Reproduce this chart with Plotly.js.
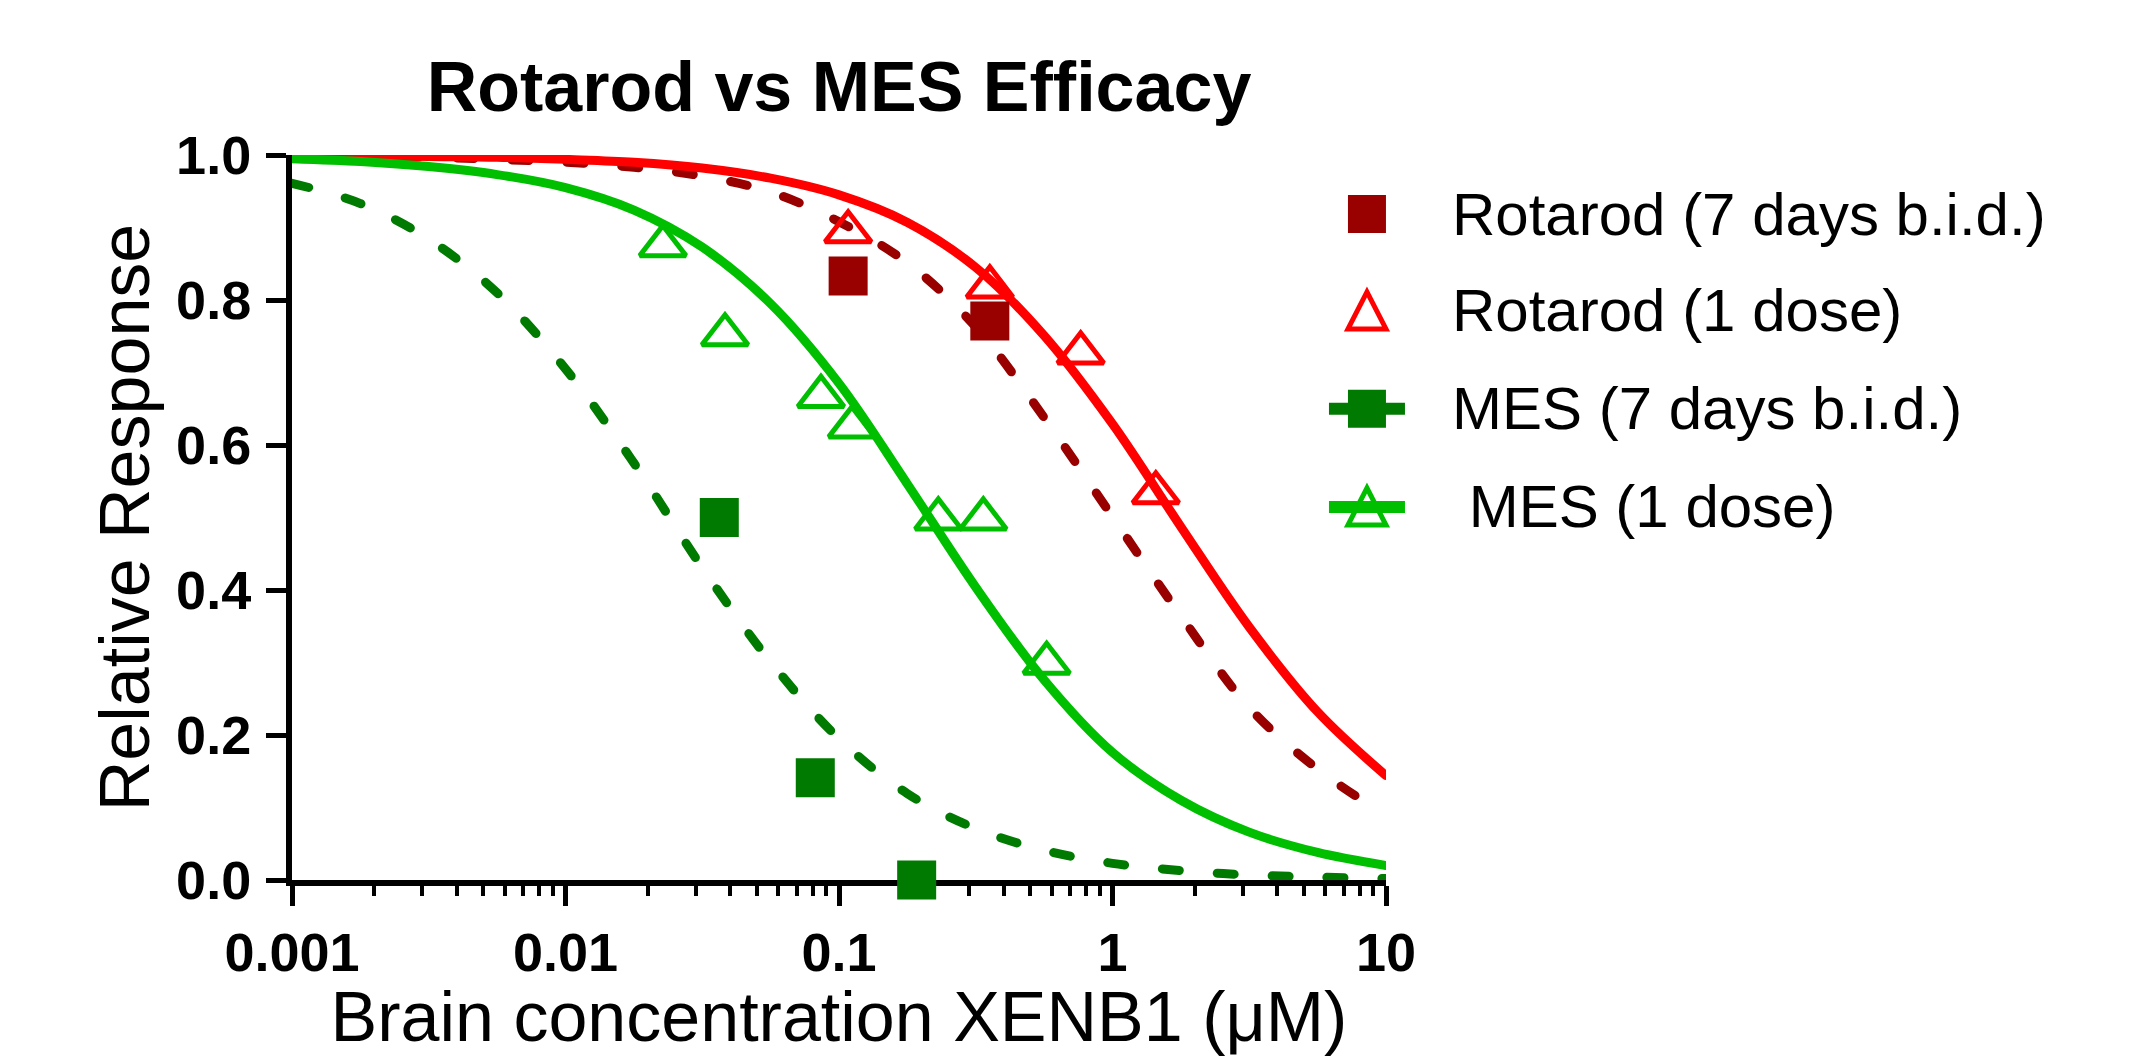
<!DOCTYPE html>
<html>
<head>
<meta charset="utf-8">
<script src="https://cdn.plot.ly/plotly-3.0.1.min.js"></script>
<style>
  html, body { margin: 0; padding: 0; background: #fff; }
  #chart { width: 2152px; height: 1056px; }
  .scatterlayer path.js-line { stroke-linecap: round; }
</style>
</head>
<body>
<div id="chart"></div>
<script>
// ---------- data ----------
const chartTitle = 'Rotarod vs MES Efficacy';
const xTitle = 'Brain concentration XENB1 (\u03bcM)';
const yTitle = 'Relative Response';

const xTickVals = [0.001, 0.01, 0.1, 1, 10];
const xTickText = ['0.001', '0.01', '0.1', '1', '10'];
const yTickVals = [0, 0.2, 0.4, 0.6, 0.8, 1.0];
const yTickText = ['0.0', '0.2', '0.4', '0.6', '0.8', '1.0'];

const seriesNames = ['Rotarod (7 days b.i.d.)', 'Rotarod (1 dose)', 'MES (7 days b.i.d.)', '\u00a0MES (1 dose)'];

// measured points
const rot7X = [0.108, 0.356];
const rot7Y = [0.833, 0.771];
const rot1X = [0.108, 0.356, 0.765, 1.44];
const rot1Y = [0.894, 0.818, 0.727, 0.534];
const mes7X = [0.0365, 0.0819, 0.1923];
const mes7Y = [0.500, 0.141, 0.000];
const mes1X = [0.0227, 0.0383, 0.0859, 0.1114, 0.2307, 0.337, 0.5744];
const mes1Y = [0.875, 0.752, 0.667, 0.625, 0.498, 0.498, 0.299];

// fitted curves at quarter-decade steps
const fitX = [0.001, 0.00178, 0.00316, 0.00562, 0.01, 0.0178, 0.0316, 0.0562, 0.1, 0.178, 0.316, 0.562, 1, 1.78, 3.16, 5.62, 10];
const rot7Fit = [0.999, 0.998, 0.997, 0.994, 0.990, 0.983, 0.971, 0.949, 0.908, 0.851, 0.763, 0.638, 0.501, 0.364, 0.238, 0.153, 0.089];
const rot1Fit = [0.999, 0.999, 0.998, 0.997, 0.994, 0.990, 0.982, 0.968, 0.945, 0.907, 0.845, 0.751, 0.629, 0.487, 0.349, 0.232, 0.144];
const mes7Fit = [0.961, 0.933, 0.884, 0.810, 0.705, 0.575, 0.431, 0.301, 0.195, 0.119, 0.071, 0.041, 0.023, 0.013, 0.007, 0.004, 0.002];
const mes1Fit = [0.995, 0.991, 0.984, 0.973, 0.955, 0.924, 0.873, 0.795, 0.685, 0.546, 0.404, 0.276, 0.176, 0.110, 0.066, 0.038, 0.020];

// ---------- styles ----------
const colRot7 = '#990000';
const colRot1 = '#FF0000';
const colMes7 = '#007A00';
const colMes1 = '#00BF00';
const FONT = '"Liberation Sans", Arial, sans-serif';
const dashStyle = '17px,38px';
const curveW = 9;

function curve(y, color, dash) {
  return { x: fitX, y: y, type: 'scatter', mode: 'lines', showlegend: false, hoverinfo: 'skip',
           line: { color: color, width: curveW, dash: dash, shape: 'spline', smoothing: 1 } };
}
function pts(x, y, color, symbol, name) {
  const open = symbol.indexOf('open') >= 0;
  return { x: x, y: y, type: 'scatter', mode: 'markers', name: name, showlegend: false, cliponaxis: false,
           marker: open ? { symbol: symbol, size: 40, color: color, line: { color: color, width: 5 } }
                        : { symbol: symbol, size: 39, color: color, line: { width: 0 } } };
}

const traces = [
  curve(rot7Fit, colRot7, dashStyle),
  curve(rot1Fit, colRot1, 'solid'),
  curve(mes7Fit, colMes7, dashStyle),
  curve(mes1Fit, colMes1, 'solid'),
  pts(rot1X, rot1Y, colRot1, 'triangle-up-open', seriesNames[1]),
  pts(mes1X, mes1Y, colMes1, 'triangle-up-open', seriesNames[3]),
  pts(rot7X, rot7Y, colRot7, 'square', seriesNames[0]),
  pts(mes7X, mes7Y, colMes7, 'square', seriesNames[2])
];

// ---------- custom legend (large keys like the reference) ----------
const legColors = [colRot7, colRot1, colMes7, colMes1];
const legSymbols = ['square', 'triangle', 'square', 'triangle'];
const legLine = [false, false, true, true];
const legRowY = [0.9186, 0.785, 0.650, 0.5145];
const legKeyX = 0.9826;
const legTextX = 1.0585;

const shapes = [];
const annotations = [];
seriesNames.forEach(function (name, i) {
  const c = legColors[i];
  if (legLine[i]) {
    shapes.push({ type: 'path', xref: 'paper', yref: 'paper', xsizemode: 'pixel', ysizemode: 'pixel',
      xanchor: legKeyX, yanchor: legRowY[i], path: 'M-38,0H38', line: { color: c, width: 12 }, layer: 'above' });
  }
  if (legSymbols[i] === 'square') {
    shapes.push({ type: 'path', xref: 'paper', yref: 'paper', xsizemode: 'pixel', ysizemode: 'pixel',
      xanchor: legKeyX, yanchor: legRowY[i], path: 'M-19,-19H19V19H-19Z', fillcolor: c, line: { width: 0 }, layer: 'above' });
  } else {
    shapes.push({ type: 'path', xref: 'paper', yref: 'paper', xsizemode: 'pixel', ysizemode: 'pixel',
      xanchor: legKeyX, yanchor: legRowY[i], path: 'M-19,-18H19L0,19Z', fillcolor: 'rgba(0,0,0,0)', line: { color: c, width: 5 }, layer: 'above' });
  }
  annotations.push({ xref: 'paper', yref: 'paper', x: legTextX, y: legRowY[i], xanchor: 'left', yanchor: 'middle',
    text: name, showarrow: false, font: { family: FONT, size: 60, color: '#000' } });
});

const layout = {
  width: 2152, height: 1056,
  paper_bgcolor: '#fff', plot_bgcolor: '#fff',
  margin: { l: 292, r: 766, t: 155, b: 176 },
  showlegend: false,
  title: { text: chartTitle, x: 0.5, xref: 'paper', y: 0.918, yref: 'container', yanchor: 'middle',
           font: { family: FONT, size: 70, color: '#000', weight: 'bold' } },
  xaxis: {
    type: 'log', range: [-3, 1], showgrid: false, zeroline: false,
    showline: true, linecolor: '#000', linewidth: 6, mirror: false,
    ticks: 'outside', ticklen: 20, tickwidth: 5, tickcolor: '#000',
    tickvals: xTickVals, ticktext: xTickText, ticklabelstandoff: 0,
    tickfont: { family: FONT, size: 54, color: '#000', weight: 'bold' },
    minor: { ticks: 'outside', ticklen: 10, tickwidth: 4, tickcolor: '#000', dtick: 'D1', showgrid: false },
    title: { text: xTitle, standoff: 26, font: { family: FONT, size: 70, color: '#000' } },
    layer: 'below traces'
  },
  yaxis: {
    range: [0, 1], showgrid: false, zeroline: false,
    showline: true, linecolor: '#000', linewidth: 6,
    ticks: 'outside', ticklen: 20, tickwidth: 5, tickcolor: '#000',
    tickvals: yTickVals, ticktext: yTickText, ticklabelstandoff: 4,
    tickfont: { family: FONT, size: 54, color: '#000', weight: 'bold' },
    title: { text: yTitle, standoff: 6, font: { family: FONT, size: 70, color: '#000' } },
    layer: 'below traces'
  },
  shapes: shapes,
  annotations: annotations
};

Plotly.newPlot('chart', traces, layout, { staticPlot: true, displayModeBar: false });
</script>
</body>
</html>
